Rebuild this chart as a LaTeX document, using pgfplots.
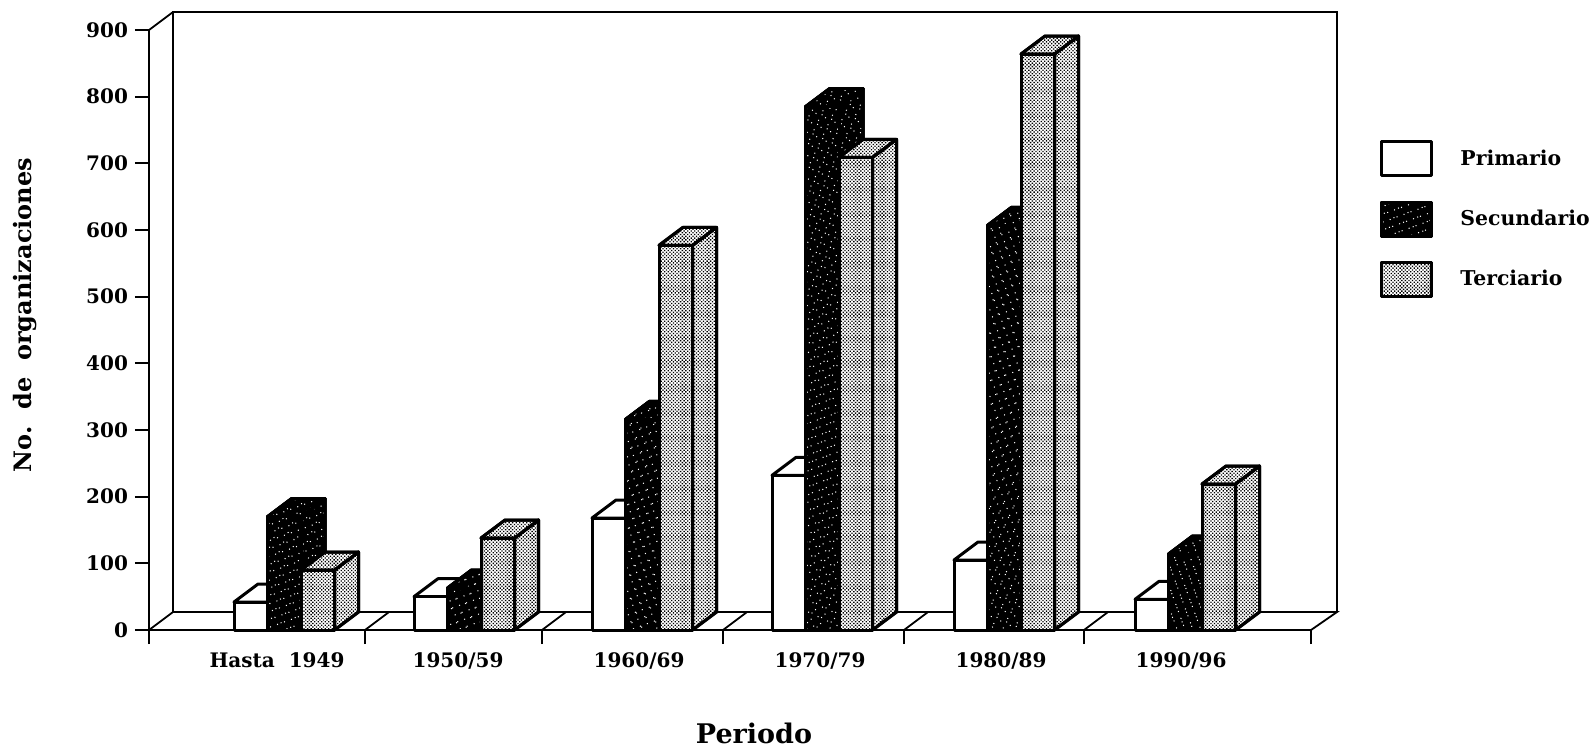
\documentclass[border=0pt]{standalone}
\usepackage{fontspec}
\setmainfont{DejaVu Serif}
\usepackage{pgfplots}
\pgfplotsset{compat=1.18}
\usetikzlibrary{patterns.meta}
\tikzset{
  barline/.style={draw=black,line width=1.5pt,line join=round},
  pri/.style={barline,fill=white},
  sec/.style={barline,fill=black,
    postaction={pattern={Dots[distance=3.7pt,radius=.36pt,angle=20]},pattern color=white},
    postaction={pattern={Dots[distance=5.3pt,radius=.36pt,angle=65]},pattern color=white}},
  ter/.style={barline,fill=white,
    postaction={pattern={Dots[distance=1.25pt,radius=.47pt,angle=45]},pattern color=black}},
}
% one 3-D bar: left edge, value, style. Width 33.5 px, depth 24 px / 27 units
\newcommand\threedbar[3]{%
  \pgfmathsetmacro\xa{#1}\pgfmathsetmacro\xb{#1+33.5}\pgfmathsetmacro\xc{#1+57.5}\pgfmathsetmacro\xd{#1+24}%
  \pgfmathsetmacro\yt{#2+27}%
  \addplot[#3,forget plot] coordinates {(\xb,0) (\xc,27) (\xc,\yt) (\xb,#2)} -- cycle;
  \addplot[#3,forget plot] coordinates {(\xa,#2) (\xd,\yt) (\xc,\yt) (\xb,#2)} -- cycle;
  \addplot[#3,forget plot] coordinates {(\xa,0) (\xb,0) (\xb,#2) (\xa,#2)} -- cycle;
}
\newcommand\barsgroup[4]{%
  \threedbar{#1}{#2}{pri}%
  \pgfmathsetmacro\xs{#1+33.5}\edef\xss{\xs}%
  \threedbar{\xss}{#3}{sec}%
  \pgfmathsetmacro\xs{#1+67}\edef\xss{\xs}%
  \threedbar{\xss}{#4}{ter}%
}
\begin{document}
\begin{tikzpicture}
\begin{axis}[
  scale only axis,
  width=581pt,height=300pt,
  xmin=149,xmax=1311,ymin=0,ymax=900,
  clip=false,
  axis x line*=bottom,axis y line*=left,
  axis line style={line width=1pt},
  tick style={line width=1pt,black},
  tick align=outside,
  major tick length=7pt,
  xtick={149,365,542,723,904,1084,1311},
  xticklabels={},
  extra x ticks={277,458,639,820,1001,1181},
  extra x tick labels={Hasta\ \ 1949,1950/59,1960/69,1970/79,1980/89,1990/96},
  extra x tick style={major tick length=0pt,tick style={draw=none},
    tick label style={yshift=-8pt}},
  ytick={0,100,...,900},
  /pgf/number format/assume math mode=true,
  tick label style={font=\fontsize{10}{11}\selectfont\bfseries},
  xlabel={Periodo},
  ylabel={No.\ \ de\ \ organizaciones},
  x label style={at={(axis cs:754,-154.5)},anchor=center,font=\fontsize{13.5}{15}\selectfont\bfseries},
  y label style={at={(axis cs:25,472.5)},anchor=center,font=\fontsize{12}{14}\selectfont\bfseries},
  legend image code/.code={\draw[#1] (0pt,-8.5pt) rectangle (25pt,8.5pt);},
  legend style={at={(axis cs:1374,741)},anchor=north west,draw=none,fill=none,
    row sep=11.6pt,font=\fontsize{10.2}{11}\selectfont\bfseries,
    /tikz/column 1/.style={column sep=12.5pt},
    /tikz/column 0/.style={column sep=12.5pt},
    nodes={inner sep=1pt}},
  legend cell align=left,
]
% back walls and floor
\addplot[black,line width=.9pt,forget plot] coordinates {(149,0) (173,27) (1337,27) (1311,0)};
\addplot[black,line width=.9pt,forget plot] coordinates {(173,27) (173,927) (1337,927) (1337,27)};
\addplot[black,line width=.9pt,forget plot] coordinates {(149,900) (173,927)};
\addplot[black,line width=.9pt,forget plot] coordinates {(365,0) (389,27)};
\addplot[black,line width=.9pt,forget plot] coordinates {(542,0) (566,27)};
\addplot[black,line width=.9pt,forget plot] coordinates {(723,0) (747,27)};
\addplot[black,line width=.9pt,forget plot] coordinates {(904,0) (928,27)};
\addplot[black,line width=.9pt,forget plot] coordinates {(1084,0) (1108,27)};
% bars: left edge, Primario, Secundario, Terciario
\barsgroup{234}{42}{170}{90}
\barsgroup{414}{50}{63}{138}
\barsgroup{592}{168}{316}{577}
\barsgroup{772}{232}{785}{709}
\barsgroup{954}{105}{607}{864}
\barsgroup{1135}{46}{114}{219}
\addlegendimage{pri}\addlegendentry{Primario}
\addlegendimage{sec}\addlegendentry{Secundario}
\addlegendimage{ter}\addlegendentry{Terciario}
\coordinate (bbA) at (axis cs:0,-178.5);
\coordinate (bbB) at (axis cs:1593,945);
\end{axis}
\pgfresetboundingbox
\path[use as bounding box] (bbA) rectangle (bbB);
\end{tikzpicture}
\end{document}
